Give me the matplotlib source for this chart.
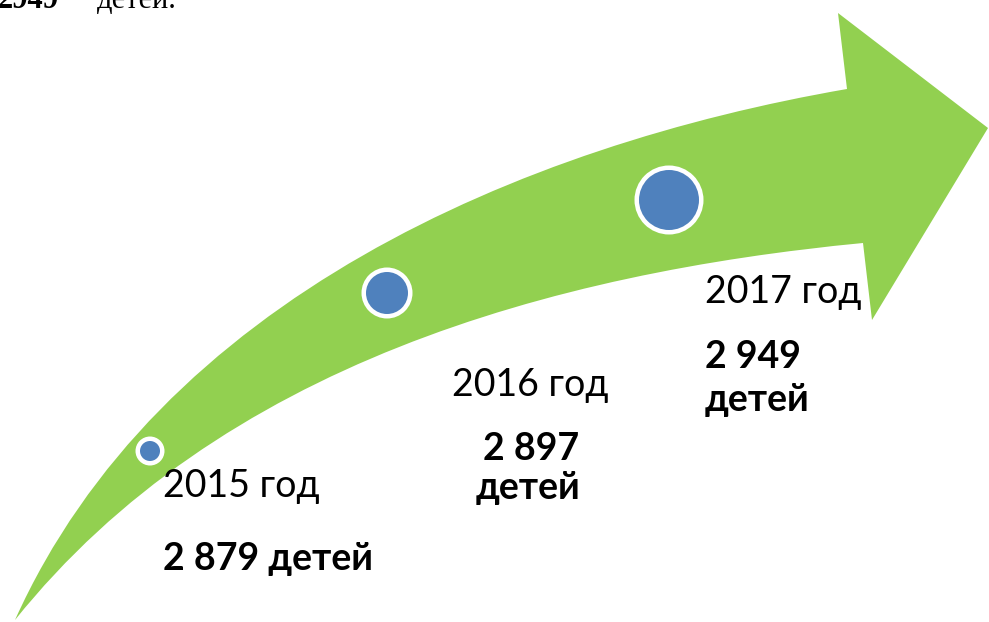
import numpy as np
import matplotlib.pyplot as plt
from matplotlib.path import Path
from matplotlib.patches import PathPatch, Circle

# data
years = [2015, 2016, 2017]
children = [2879, 2897, 2949]
year_labels = [str(y) + " год" for y in years]
count_labels = ["{:,}".format(c).replace(",", " ") for c in children]

# layout (pixel coords, y down)
marker_xy = [(150, 451), (387, 293), (669, 200)]
marker_r = [10, 21, 30]

# arrow outline, points
upper_edge = [(15, 620), (67, 520), (100, 477), (150, 417), (217, 357), (295, 303),
              (367, 255), (480, 196), (550, 167), (613, 141), (747, 116), (847, 89)]
lower_edge = [(15, 620), (100, 533), (217, 438), (300, 390), (350, 368), (450, 329),
              (550, 297), (613, 282), (747, 258), (863, 243)]
head = [(838, 13), (988, 128), (872, 320)]

green = "#92D050"
blue = "#4F81BD"


def bezier_fit(pts):
    # least squares cubic bezier with fixed end points
    p = np.array(pts, dtype=float)
    d = np.r_[0, np.cumsum(np.hypot(*np.diff(p, axis=0).T))]
    t = d / d[-1]
    b0 = (1 - t) ** 3
    b1 = 3 * t * (1 - t) ** 2
    b2 = 3 * t ** 2 * (1 - t)
    b3 = t ** 3
    A = np.c_[b1, b2]
    rhs = p - np.outer(b0, p[0]) - np.outer(b3, p[-1])
    sol = np.linalg.lstsq(A, rhs, rcond=None)[0]
    return [tuple(sol[0]), tuple(sol[1]), tuple(p[-1])]


fig = plt.figure(figsize=(9.89, 6.22), dpi=100)
ax = fig.add_axes([0, 0, 1, 1])
ax.set_xlim(0, 989)
ax.set_ylim(622, 0)
ax.axis("off")

up = bezier_fit(upper_edge)
low = bezier_fit(lower_edge[::-1])
verts = [upper_edge[0]] + up + head + [lower_edge[-1]] + low + [upper_edge[0]]
codes = ([Path.MOVETO] + [Path.CURVE4] * 3 + [Path.LINETO] * 4
         + [Path.CURVE4] * 3 + [Path.CLOSEPOLY])
ax.add_patch(PathPatch(Path(verts, codes), facecolor=green, edgecolor="none"))

for (x, y), r in zip(marker_xy, marker_r):
    ax.add_patch(Circle((x, y), r + 4.5, facecolor="white", edgecolor="none"))
    ax.add_patch(Circle((x, y), r, facecolor=blue, edgecolor="none"))

fs = 27
fam = ["Lato", "DejaVu Sans"]
# 2015
ax.text(163, 497, year_labels[0], fontsize=fs, family=fam, va="baseline")
ax.text(163, 570, count_labels[0] + " детей", fontsize=fs, family=fam,
        fontweight="bold", va="baseline")
# 2016
ax.text(452, 396, year_labels[1], fontsize=fs, family=fam, va="baseline")
ax.text(531, 460, count_labels[1], fontsize=fs, family=fam, fontweight="bold",
        va="baseline", ha="center")
ax.text(528, 499, "детей", fontsize=fs, family=fam, fontweight="bold",
        va="baseline", ha="center")
# 2017
ax.text(705, 303, year_labels[2], fontsize=fs, family=fam, va="baseline")
ax.text(705, 368, count_labels[2], fontsize=fs, family=fam, fontweight="bold",
        va="baseline")
ax.text(705, 411, "детей", fontsize=fs, family=fam, fontweight="bold",
        va="baseline")

# line of text above the picture, cut by the top edge as in the original
ax.text(-2, 8, "2949", fontsize=22, family="Liberation Serif", fontweight="bold",
        va="baseline")
ax.text(97, 8, "детей.", fontsize=22, family="Liberation Serif", va="baseline")

plt.savefig("out.png", dpi=100)
